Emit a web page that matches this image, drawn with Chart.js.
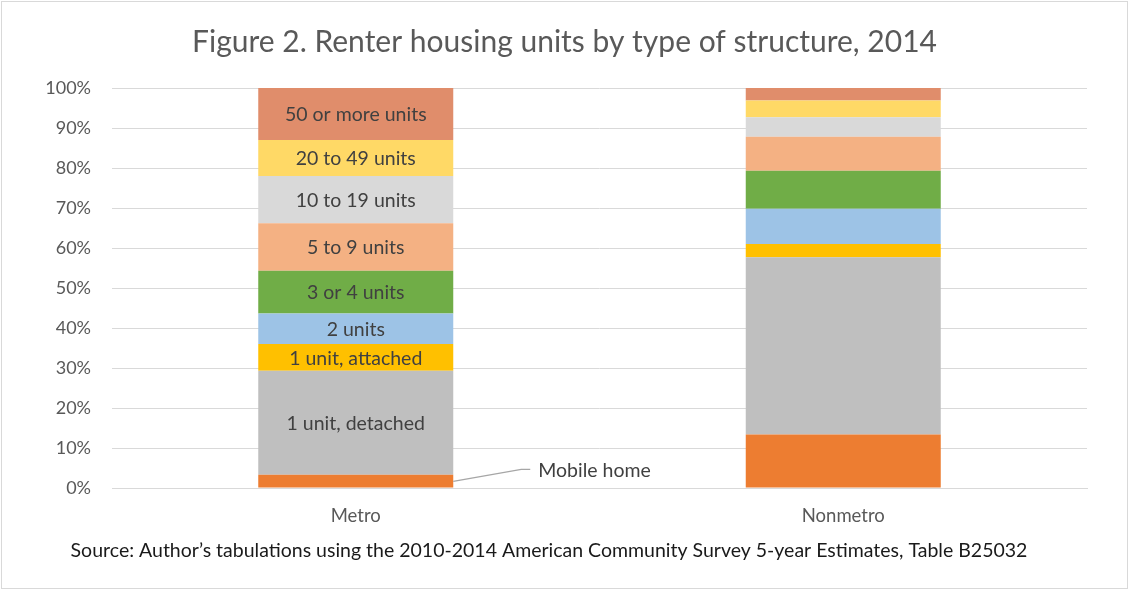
<!DOCTYPE html>
<html>
<head>
<meta charset="utf-8">
<script src="https://cdn.jsdelivr.net/npm/chart.js@4/dist/chart.umd.min.js"></script>
<style>
html,body{margin:0;padding:0;background:#fff;}
#wrap{width:1129px;height:590px;position:relative;}
</style>
</head>
<body>
<div id="wrap"><canvas id="c" width="1129" height="590"></canvas></div>
<script>
const categories = ["Metro", "Nonmetro"];
const seriesNames = ["Mobile home", "1 unit, detached", "1 unit, attached", "2 units", "3 or 4 units", "5 to 9 units", "10 to 19 units", "20 to 49 units", "50 or more units"];
const metroValues = [3.3, 26.0, 6.7, 7.6, 10.7, 11.9, 11.8, 9.0, 13.0];
const nonmetroValues = [13.4, 44.3, 3.3, 8.8, 9.5, 8.5, 4.9, 4.2, 3.1];
const seriesColors = ["#ED7D31", "#BFBFBF", "#FFC000", "#9DC3E6", "#70AD47", "#F4B183", "#D9D9D9", "#FFD966", "#E08D6B"];
const yTickValues = [0, 10, 20, 30, 40, 50, 60, 70, 80, 90, 100];
const titleText = "Figure 2. Renter housing units by type of structure, 2014";
const sourceText = "Source: Author\u2019s tabulations using the 2010-2014 American Community Survey 5-year Estimates, Table B25032";

const FONT = "Lato, 'Open Sans', sans-serif";

const datasets = seriesNames.map((name, i) => ({
  label: name,
  data: [metroValues[i], nonmetroValues[i]],
  backgroundColor: seriesColors[i],
  borderWidth: 0,
  barPercentage: 0.8,
  categoryPercentage: 0.5
}));

const decorPlugin = {
  id: 'decor',
  beforeDraw(chart) {
    const ctx = chart.ctx;
    ctx.save();
    ctx.fillStyle = '#fff';
    ctx.fillRect(0, 0, chart.width, chart.height);
    ctx.strokeStyle = '#d9d9d9';
    ctx.lineWidth = 1;
    ctx.strokeRect(1.5, 1.5, chart.width - 3, chart.height - 3);
    ctx.restore();
  },
  afterDraw(chart) {
    const ctx = chart.ctx;
    const ys = chart.scales.y;
    ctx.save();
    ctx.textAlign = 'center';
    ctx.textBaseline = 'middle';
    // title
    ctx.fillStyle = '#595959';
    ctx.font = "30px " + FONT;
    ctx.fillText(titleText, chart.width / 2, 42);
    // source
    ctx.fillStyle = '#1a1a1a';
    ctx.font = "19.5px " + FONT;
    ctx.fillText(sourceText, 549, 551);
    // labels in metro bar
    ctx.font = "19.5px " + FONT;
    ctx.fillStyle = '#404040';
    let cum = 0;
    for (let i = 0; i < seriesNames.length; i++) {
      const v = metroValues[i];
      const bar = chart.getDatasetMeta(i).data[0];
      const yMid = ys.getPixelForValue(cum + v / 2);
      if (i === 0) {
        const xr = bar.x + bar.width / 2;
        ctx.strokeStyle = '#a6a6a6';
        ctx.lineWidth = 1.2;
        ctx.beginPath();
        ctx.moveTo(xr, yMid);
        ctx.lineTo(xr + 68, yMid - 12);
        ctx.lineTo(xr + 77, yMid - 12);
        ctx.stroke();
        ctx.textAlign = 'left';
        ctx.fillText(seriesNames[i], xr + 85, yMid - 11);
        ctx.textAlign = 'center';
      } else {
        ctx.fillText(seriesNames[i], bar.x, yMid + 1);
      }
      cum += v;
    }
    ctx.restore();
  }
};

new Chart(document.getElementById('c'), {
  type: 'bar',
  data: { labels: categories, datasets },
  options: {
    responsive: false,
    animation: false,
    layout: { padding: { left: 0, right: 42, top: 88, bottom: 0 } },
    plugins: { legend: { display: false }, tooltip: { enabled: false } },
    scales: {
      x: {
        stacked: true,
        grid: { display: false, drawTicks: false },
        border: { display: true, color: '#d9d9d9', width: 1 },
        ticks: { color: '#595959', font: { family: FONT, size: 18.5 }, padding: 17 },
        afterFit(scale) { scale.height = 102; }
      },
      y: {
        stacked: true,
        min: 0, max: 100,
        afterBuildTicks(scale) { scale.ticks = yTickValues.map(v => ({ value: v })); },
        grid: { color: '#d9d9d9', lineWidth: 1, drawTicks: false },
        border: { display: false },
        ticks: { color: '#595959', font: { family: FONT, size: 18 }, padding: 21, callback: v => v + '%' },
        afterFit(scale) { scale.width = 112; }
      }
    }
  },
  plugins: [decorPlugin]
});
</script>
</body>
</html>
